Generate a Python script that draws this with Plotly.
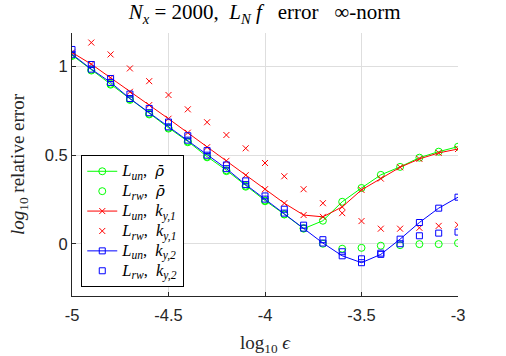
import plotly.graph_objects as go

# log10 epsilon
x_eps = [-5.0, -4.9, -4.8, -4.7, -4.6, -4.5, -4.4, -4.3, -4.2, -4.1, -4.0,
         -3.9, -3.8, -3.7, -3.6, -3.5, -3.4, -3.3, -3.2, -3.1, -3.0]

# log10 relative error
un_rho = [1.065, 0.982, 0.903, 0.817, 0.734, 0.655, 0.578, 0.492, 0.415, 0.327, 0.244,
          0.167, 0.085, 0.130, 0.237, 0.315, 0.389, 0.434, 0.486, 0.520, 0.548]
rw_rho = [1.060, 0.978, 0.898, 0.812, 0.730, 0.650, 0.573, 0.488, 0.410, 0.322, 0.240,
          0.165, 0.088, 0.000, -0.028, -0.023, -0.011, -0.008, -0.002, -0.002, 0.004]
un_ky1 = [1.080, 1.014, 0.937, 0.858, 0.783, 0.706, 0.627, 0.545, 0.468, 0.387, 0.308,
          0.229, 0.162, 0.152, 0.208, 0.304, 0.368, 0.432, 0.479, 0.513, 0.535]
rw_ky1 = [1.220, 1.136, 1.069, 0.990, 0.918, 0.840, 0.759, 0.686, 0.614, 0.539, 0.456,
          0.381, 0.308, 0.229, 0.173, 0.128, 0.085, 0.085, 0.090, 0.101, 0.107]
un_ky2 = [1.070, 0.986, 0.911, 0.820, 0.740, 0.660, 0.585, 0.500, 0.424, 0.334, 0.252,
          0.173, 0.088, 0.004, -0.068, -0.107, -0.060, 0.026, 0.120, 0.201, 0.263]
rw_ky2 = [1.097, 1.012, 0.933, 0.845, 0.764, 0.687, 0.610, 0.526, 0.445, 0.355, 0.270,
          0.195, 0.105, 0.023, -0.045, -0.085, -0.053, 0.000, 0.045, 0.060, 0.066]

serif = "Liberation Serif"
sans = "Liberation Sans"

rho_bar = '<i><span style="font-family:DejaVu Serif;font-size:15px">ρ̄</span></i>'


def lab(sub, rest):
    return ('<span style="font-size:16.5px"><i>L<sub>' + sub + '</sub></i>,  '
            + rest + '</span>')


fig = go.Figure()

# green: rho bar
fig.add_trace(go.Scatter(x=x_eps, y=un_rho, mode='lines+markers',
                         line=dict(color='#00ff00', width=1),
                         marker=dict(symbol='circle-open', size=7, color='#00ff00'),
                         name=lab('un', rho_bar)))
fig.add_trace(go.Scatter(x=x_eps, y=rw_rho, mode='markers',
                         marker=dict(symbol='circle-open', size=7, color='#00ff00'),
                         name=lab('rw', rho_bar)))
# red: k_y,1
fig.add_trace(go.Scatter(x=x_eps, y=un_ky1, mode='lines+markers',
                         line=dict(color='#ff0000', width=1),
                         marker=dict(symbol='x-thin', size=6, color='#ff0000',
                                     line=dict(color='#ff0000', width=1)),
                         name=lab('un', '<i>k<sub>y,1</sub></i>')))
fig.add_trace(go.Scatter(x=x_eps, y=rw_ky1, mode='markers',
                         marker=dict(symbol='x-thin', size=6, color='#ff0000',
                                     line=dict(color='#ff0000', width=1)),
                         name=lab('rw', '<i>k<sub>y,1</sub></i>')))
# blue: k_y,2
fig.add_trace(go.Scatter(x=x_eps, y=un_ky2, mode='lines+markers',
                         line=dict(color='#0000ff', width=1),
                         marker=dict(symbol='square-open', size=6, color='#0000ff'),
                         name=lab('un', '<i>k<sub>y,2</sub></i>')))
fig.add_trace(go.Scatter(x=x_eps, y=rw_ky2, mode='markers',
                         marker=dict(symbol='square-open', size=6, color='#0000ff'),
                         name=lab('rw', '<i>k<sub>y,2</sub></i>')))

fig.update_layout(
    width=506, height=356,
    margin=dict(l=71.5, r=48, t=33.3, b=60),
    paper_bgcolor='white', plot_bgcolor='white',
    title=dict(text='<i>N<sub>x</sub></i> = 2000,  <i>L<sub>N</sub></i> <i>f</i>   error   ∞-norm',
               x=0.523, xanchor='center', y=0.967, yanchor='middle',
               font=dict(family=serif, size=21, color='black')),
    showlegend=True,
    legend=dict(x=0.024, y=0.033, xanchor='left', yanchor='bottom',
                bgcolor='white', bordercolor='black', borderwidth=1,
                font=dict(family=serif, size=13, color='black'),
                tracegroupgap=0),
)
fig.update_xaxes(range=[-5, -3], tickvals=[-5, -4.5, -4, -3.5, -3],
                 ticktext=['-5', '-4.5', '-4', '-3.5', '-3'], automargin=False,
                 showline=True, linecolor='#262626', linewidth=1,
                 ticks='inside', ticklen=4, tickcolor='#262626', ticklabelstandoff=4,
                 showgrid=True, gridcolor='#dedede', gridwidth=1, zeroline=False,
                 tickfont=dict(family=sans, size=16.5, color='#262626'),
                 title=dict(text='log<sub>10</sub> <i>ϵ</i>',
                            font=dict(family=serif, size=19, color='#262626')))
fig.update_yaxes(range=[-0.295, 1.19], tickvals=[0, 0.5, 1],
                 ticktext=['0', '0.5', '1'], automargin=False,
                 showline=True, linecolor='#262626', linewidth=1,
                 ticks='inside', ticklen=4, tickcolor='#262626',
                 showgrid=True, gridcolor='#dedede', gridwidth=1, zeroline=False,
                 tickfont=dict(family=sans, size=16.5, color='#262626'),
                 title=dict(text='<i>log</i><sub>10</sub> relative error',
                            font=dict(family=serif, size=19, color='#262626')))

# drop the default page margin so the figure sits at the window's corner
fig.write_html("out.html", config={'displayModeBar': False},
               post_script="document.body.style.margin='0';")
